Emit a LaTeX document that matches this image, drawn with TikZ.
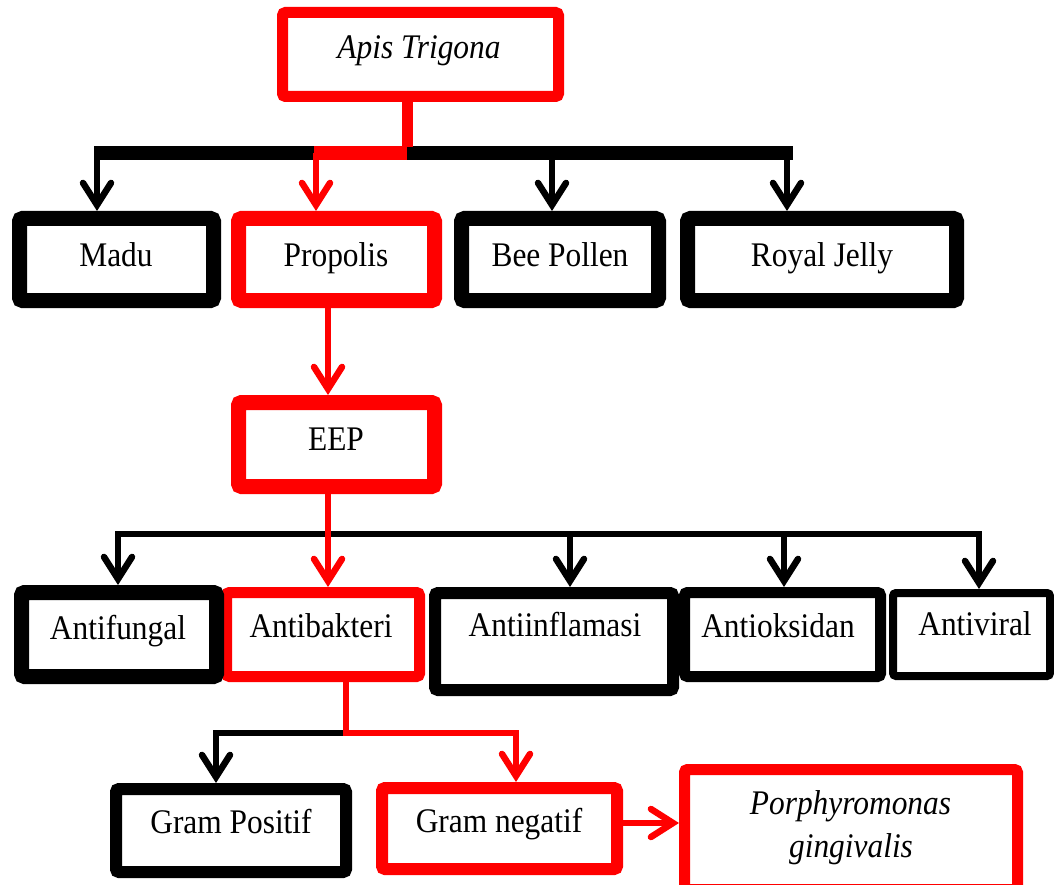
\documentclass[tikz,border=0pt]{standalone}
\usepackage{fontspec}
\setmainfont{Liberation Serif}[FakeStretch=0.91]
\usetikzlibrary{arrows.meta}
\tikzset{
  box/.style={draw=black, rounded corners=3pt, inner sep=0pt},
  rbox/.style={box, draw=red},
  txt/.style={anchor=base, inner sep=0pt, font=\fontsize{34.5}{40}\selectfont},
  itxt/.style={anchor=base, inner sep=0pt, font=\fontsize{34.5}{40}\selectfont\itshape},
  arr/.style={line width=6.5pt, -{Straight Barb[length=22pt,width=28pt,line cap=round]}},
  bar/.style={line width=6pt},
}
\begin{document}
\begin{tikzpicture}[x=1pt,y=-1pt]
\useasboundingbox (0,0) rectangle (1054,885);
% boxes
\node[rbox, line width=11pt, minimum width=276pt, minimum height=84pt] (apis) at (420.5,54.5) {};
\node[box, line width=15pt, minimum width=194pt, minimum height=82pt] (madu) at (116.5,259.5) {};
\node[rbox, line width=15pt, minimum width=196pt, minimum height=82pt] (prop) at (336.5,259.5) {};
\node[box, line width=15pt, minimum width=197pt, minimum height=82pt] (bee) at (560,259.5) {};
\node[box, line width=15pt, minimum width=269pt, minimum height=82pt] (rj) at (822,259.5) {};
\node[rbox, line width=15pt, minimum width=196pt, minimum height=84pt] (eep) at (336.5,444.5) {};
\node[rbox, line width=11pt, minimum width=193pt, minimum height=84pt] (ab) at (323,634.5) {};
\node[box, line width=15pt, minimum width=195pt, minimum height=84pt] (af) at (119,634.5) {};
\node[box, line width=11pt, minimum width=196pt, minimum height=84pt] (ao) at (782.5,634.5) {};
\node[box, line width=12pt, minimum width=238pt, minimum height=97pt] (ai) at (554,641.5) {};
\node[box, line width=8pt, minimum width=157pt, minimum height=83pt] (av) at (971.5,634.5) {};
\node[box, line width=12pt, minimum width=230pt, minimum height=83pt] (gp) at (231,830.5) {};
\node[rbox, line width=12pt, minimum width=235pt, minimum height=81pt] (gn) at (499.5,828.5) {};
\node[rbox, line width=11pt, minimum width=333pt, minimum height=120pt] (pg) at (851,829.5) {};
% texts
\node[itxt] (tapis) at (419,59) {Apis Trigona};
\node[txt] (tmadu) at (116,266) {Madu};
\node[txt] (tprop) at (336,266) {Propolis};
\node[txt] (tbee) at (560,266) {Bee Pollen};
\node[txt] (trj) at (822,266) {Royal Jelly};
\node[txt] (teep) at (336,450) {EEP};
\node[txt] (taf) at (118,639) {Antifungal};
\node[txt] (tab) at (321,637) {Antibakteri};
\node[txt] (tai) at (555,636) {Antiinflamasi};
\node[txt] (tao) at (778,637) {Antioksidan};
\node[txt] (tav) at (975,635) {Antiviral};
\node[txt] (tgp) at (231,833) {Gram Positif};
\node[txt] (tgn) at (499,832) {Gram negatif};
\node[itxt] (tpg1) at (850.5,814) {Porphyromonas};
\node[itxt] (tpg2) at (851,857) {gingivalis};
% top level connectors
\coordinate (tL) at (94,153);
\coordinate (tR) at (793,153);
\coordinate (tM) at (407,153);
\coordinate (tP) at (314,153);
\coordinate (tPa) at (316,153);
\coordinate (tMa) at (97,153);
\coordinate (tBa) at (552,153);
\coordinate (tRa) at (787,153);
\draw[line width=14pt] (tL) -- (tR);
\draw[red, line width=11pt] (apis.south -| tM) -- ([yshift=6pt]tM);
\draw[red, line width=14pt] (tP) -- (tM);
\draw[arr] (tMa) -- (tMa |- madu.north);
\draw[arr, red] (tPa) -- (tPa |- prop.north);
\draw[arr] (tBa) -- (tBa |- bee.north);
\draw[arr] (tRa) -- (tRa |- rj.north);
% propolis -> EEP
\coordinate (pe) at (328,0);
\draw[arr, red] (prop.south -| pe) -- (eep.north -| pe);
% EEP level
\coordinate (eL) at (118,534);
\coordinate (eR) at (979,534);
\coordinate (eI) at (570,534);
\coordinate (eO) at (784,534);
\draw[bar, line cap=rect] (eL) -- (eR);
\draw[arr] (eL) -- (eL |- af.north);
\draw[arr] (eI) -- (eI |- ai.north);
\draw[arr] (eO) -- (eO |- ao.north);
\draw[arr] (eR) -- (eR |- av.north);
\draw[arr, red] (eep.south -| pe) -- (ab.north -| pe);
% Antibakteri level
\coordinate (gM) at (346,733);
\coordinate (gL) at (216,733);
\coordinate (gR) at (516,733);
\draw[bar, line cap=rect] (gM) -- (gL);
\draw[arr] (gL) -- (gL |- gp.north);
\draw[arr, red, line cap=rect] (ab.south -| gM) -- (gM) -- (gR) -- (gR |- gn.north);
% Gram negatif -> Porphyromonas
\draw[arr, red] ([yshift=5.5pt]gn.east) -- ([yshift=5.5pt]gn.east -| pg.west);
\end{tikzpicture}
\end{document}
